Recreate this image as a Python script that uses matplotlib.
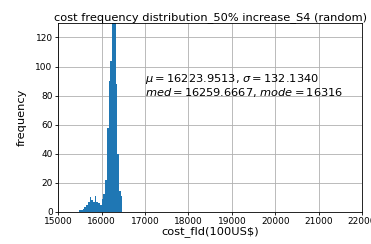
import matplotlib
matplotlib.use("Agg")
import matplotlib.pyplot as plt
import numpy as np

# histogram: left bin edges (100US$) and counts
bin_left = [15480, 15520, 15560, 15600, 15640, 15680, 15720, 15760, 15800,
            15840, 15880, 15920, 15960, 16000, 16040, 16080, 16120, 16160,
            16200, 16240, 16280, 16320, 16360, 16400, 16440]
counts = [1, 1, 2, 3, 5, 7, 10, 8, 7,
          11, 7, 6, 5, 9, 12, 22, 58, 90,
          104, 145, 150, 88, 40, 14, 11]
bin_width = 40

mu, sigma = 16223.9513, 132.1340
med, mode = 16259.6667, 16316

x_ticks = np.arange(15000, 22001, 1000)
y_ticks = np.arange(0, 121, 20)

fig = plt.figure(figsize=(3.71, 2.44), dpi=100)
ax = fig.add_axes([0.157, 0.132, 0.819, 0.774])

ax.bar(bin_left, counts, width=bin_width, align="edge", color="#1f77b4", zorder=2)
ax.grid(True, color="#b0b0b0", linewidth=0.6, zorder=0)
ax.set_axisbelow(True)

ax.set_xlim(15000, 22000)
ax.set_ylim(0, 130)
ax.set_xticks(x_ticks)
ax.set_yticks(y_ticks)
ax.tick_params(labelsize=6.5, length=2.5, width=0.6, pad=1.5)
for s in ax.spines.values():
    s.set_linewidth(0.6)

ax.set_title("cost frequency distribution_50% increase_S4 (random)", fontsize=8.2, pad=2)
ax.set_xlabel(r"cost_fld(100US\$)", fontsize=8.2, labelpad=0)
ax.set_ylabel("frequency", fontsize=8.2, labelpad=6)

ax.text(17000, 80,
        r"$\mu=%.4f$, $\sigma=%.4f$" % (mu, sigma) + "\n" +
        r"$med=%.4f$, $mode=%d$" % (med, mode),
        fontsize=8.2, linespacing=1.0)

fig.savefig("out.png", dpi=100)
